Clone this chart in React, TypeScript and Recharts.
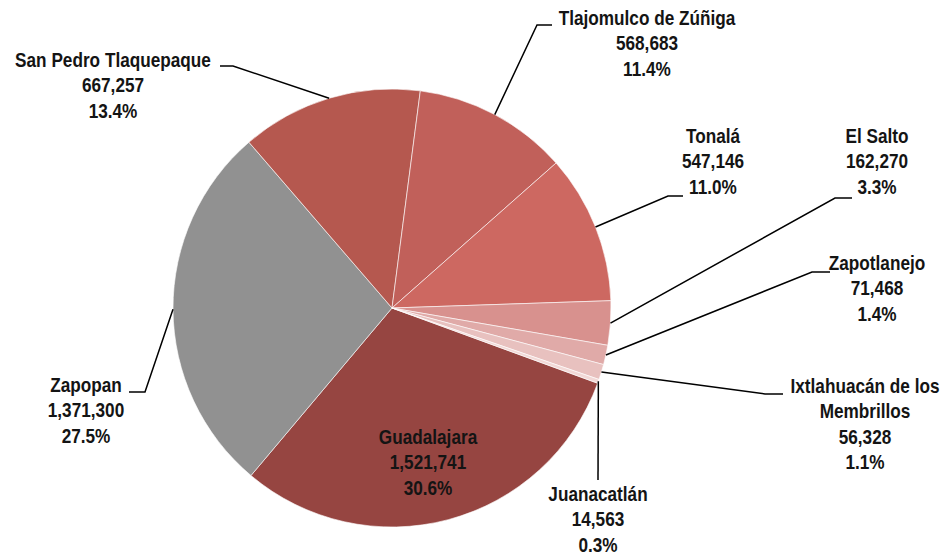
import { PieChart, Pie, Cell } from 'recharts';

const municipios = [
  'Guadalajara',
  'Zapopan',
  'San Pedro Tlaquepaque',
  'Tlajomulco de Zúñiga',
  'Tonalá',
  'El Salto',
  'Zapotlanejo',
  'Ixtlahuacán de los Membrillos',
  'Juanacatlán',
];

const poblacion = [1521741, 1371300, 667257, 568683, 547146, 162270, 71468, 56328, 14563];

const colores = [
  '#964541',
  '#919191',
  '#b5584f',
  '#c1605a',
  '#cd6861',
  '#d8918e',
  '#e0aaa8',
  '#e8c1bf',
  '#f2d9d7',
];

// label placement relative to the pie centre: text anchor (tx, ty = first baseline),
// elbow of the leader line (ex, ey) and end of its short horizontal part (hx)
const labelPos = [
  { tx: 36, ty: 136, ex: null, ey: null, hx: null },
  { tx: -306, ty: 84, ex: -247, ey: 84, hx: -263 },
  { tx: -279, ty: -241, ex: -159, ey: -242, hx: -172 },
  { tx: 255, ty: -283, ex: 145, ey: -283, hx: 160 },
  { tx: 321, ty: -165, ex: 276, ey: -112, hx: 291 },
  { tx: 485, ty: -165, ex: 443, ey: -110, hx: 460 },
  { tx: 485, ty: -38, ex: 420, ey: -36, hx: 438 },
  { tx: 473, ty: 85, ex: 373, ey: 86, hx: 391 },
  { tx: 206, ty: 193, ex: 206, ey: 172, hx: 206 },
];

const data = municipios.map((name, i) => ({ name, value: poblacion[i] }));

const RADIAN = Math.PI / 180;
const FONT = "'Liberation Sans', Arial, sans-serif";
const LINE_H = 25.3;
const SQUEEZE = 0.86; // reference uses a narrow face

function wrap(text: string, max: number) {
  const words = text.split(' ');
  const lines: string[] = [];
  let cur = '';
  for (const w of words) {
    const next = cur ? cur + ' ' + w : w;
    if (next.length > max && cur) {
      lines.push(cur);
      cur = w;
    } else {
      cur = next;
    }
  }
  if (cur) lines.push(cur);
  return lines;
}

const renderLabel = (props: any) => {
  const { cx, cy, midAngle, outerRadius, index, name, value, percent } = props;
  const pos = labelPos[index];
  const lines = [
    ...wrap(name, 22),
    Number(value).toLocaleString('en-US'),
    (percent * 100).toFixed(1) + '%',
  ];
  const sx = cx + outerRadius * Math.cos(-midAngle * RADIAN);
  const sy = cy + outerRadius * Math.sin(-midAngle * RADIAN);

  return (
    <g key={'lbl-' + index}>
      {pos.ex !== null && (
        <polyline
          points={`${sx},${sy} ${cx + pos.ex},${cy + pos.ey} ${cx + pos.hx},${cy + pos.ey}`}
          fill="none"
          stroke="#000"
          strokeWidth={1.5}
        />
      )}
      <g transform={`translate(${cx + pos.tx},${cy + pos.ty}) scale(${SQUEEZE},1)`}>
        <text
          x={0}
          y={0}
          textAnchor="middle"
          fontFamily={FONT}
          fontWeight="bold"
          fontSize={20}
          fill="#141414"
        >
          {lines.map((l, i) => (
            <tspan key={i} x={0} dy={i === 0 ? 0 : LINE_H}>
              {l}
            </tspan>
          ))}
        </text>
      </g>
    </g>
  );
};

export default function App() {
  return (
    <div style={{ position: 'absolute', left: 0, top: 0, background: '#fff' }}>
      <PieChart width={943} height={555} margin={{ top: 0, right: 0, bottom: 0, left: 0 }}>
        <Pie
          data={data}
          dataKey="value"
          nameKey="name"
          cx={392}
          cy={308}
          outerRadius={219}
          startAngle={-20.1}
          endAngle={-380.1}
          stroke="#fff"
          strokeWidth={0.6}
          label={renderLabel}
          labelLine={false}
          isAnimationActive={false}
        >
          {data.map((d, i) => (
            <Cell key={d.name} fill={colores[i]} />
          ))}
        </Pie>
      </PieChart>
    </div>
  );
}
